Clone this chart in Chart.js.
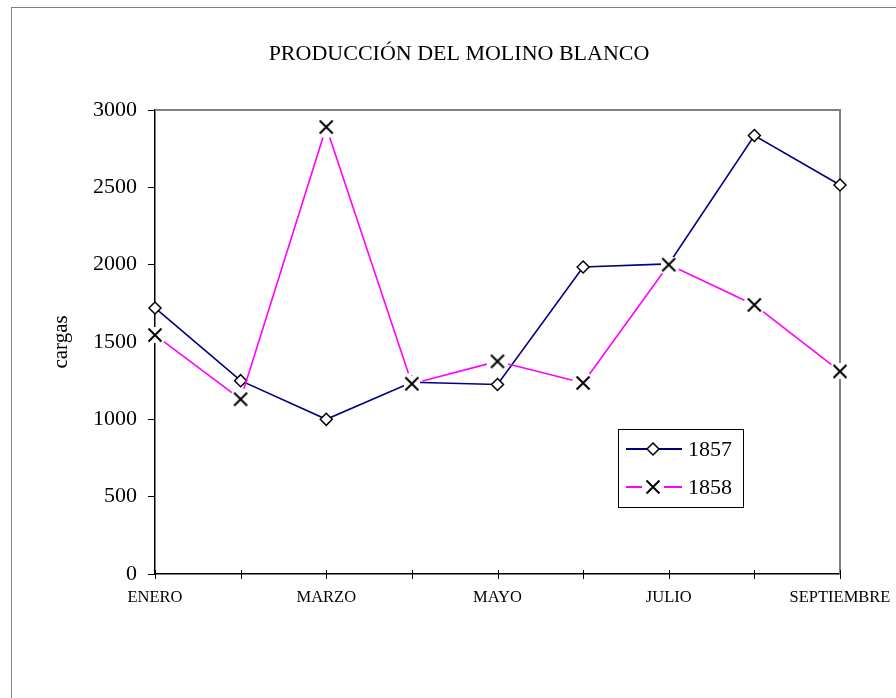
<!DOCTYPE html>
<html><head><meta charset="utf-8">
<script src="https://cdn.jsdelivr.net/npm/chart.js@4.4.1/dist/chart.umd.min.js"></script>
<style>html,body{margin:0;padding:0;background:#fff}#wrap{width:896px;height:698px;position:relative}</style>
</head><body><div id="wrap"><canvas id="c"></canvas></div>
<script>
const months = ['ENERO','FEBRERO','MARZO','ABRIL','MAYO','JUNIO','JULIO','AGOSTO','SEPTIEMBRE'];
const seriesNames = ['1857','1858'];
const values1857 = [1720,1250,1000,1240,1225,1985,2005,2835,2515];
const values1858 = [1545,1130,2890,1230,1375,1235,2000,1740,1310];
const yTicks = [0,500,1000,1500,2000,2500,3000];
const chartTitle = 'PRODUCCIÓN DEL MOLINO BLANCO';
const yTitle = 'cargas';

const FONT = 'Liberation Serif';
const NAVY = '#000080', MAGENTA = '#FF00FF';
const GAP = 11;

function makeXMarker() {
  const c = document.createElement('canvas');
  c.width = 16; c.height = 16;
  const g = c.getContext('2d');
  g.fillStyle = '#fff'; g.fillRect(0,0,16,16);
  g.strokeStyle = '#000'; g.lineWidth = 2;
  g.beginPath();
  g.moveTo(1.5,1.5); g.lineTo(14.5,14.5);
  g.moveTo(14.5,1.5); g.lineTo(1.5,14.5);
  g.stroke();
  return c;
}
const xMarker = makeXMarker();

function segLen(ctx){ const dx = ctx.p1.x-ctx.p0.x, dy = ctx.p1.y-ctx.p0.y; return Math.sqrt(dx*dx+dy*dy); }

function drawDiamond(ctx, x, y, r){
  ctx.beginPath();
  ctx.moveTo(x, y-r); ctx.lineTo(x+r, y); ctx.lineTo(x, y+r); ctx.lineTo(x-r, y); ctx.closePath();
  ctx.fillStyle = '#fff'; ctx.fill();
  ctx.strokeStyle = '#000'; ctx.lineWidth = 1.5; ctx.stroke();
}

const decor = {
  id: 'decor',
  beforeDraw(chart){
    const ctx = chart.ctx;
    ctx.save();
    ctx.fillStyle = '#fff'; ctx.fillRect(0,0,chart.width,chart.height);
    ctx.strokeStyle = '#808080'; ctx.lineWidth = 1;
    ctx.strokeRect(11.5, 7.5, chart.width + 50, chart.height + 50);
    ctx.restore();
  },
  beforeDatasetsDraw(chart){
    const {ctx, chartArea: a, scales: {x}} = chart;
    ctx.save();
    ctx.strokeStyle = '#808080'; ctx.lineWidth = 2;
    ctx.beginPath();
    ctx.moveTo(a.left, a.top); ctx.lineTo(a.right, a.top); ctx.lineTo(a.right, a.bottom);
    ctx.stroke();
    ctx.strokeStyle = '#000'; ctx.lineWidth = 1;
    for (let i = 0; i < x.ticks.length; i++) {
      const px = Math.round(x.getPixelForTick(i)) + 0.5;
      ctx.beginPath(); ctx.moveTo(px, a.bottom - 4); ctx.lineTo(px, a.bottom + 5); ctx.stroke();
    }
    ctx.restore();
  },
  afterDraw(chart){
    const {ctx, chartArea: a} = chart;
    ctx.save();
    // title
    ctx.fillStyle = '#000';
    ctx.font = '22px "' + FONT + '"';
    ctx.textAlign = 'center'; ctx.textBaseline = 'middle';
    ctx.fillText(chartTitle, (11 + chart.width + 11) / 2, 54);
    // legend
    const w = a.right - a.left, h = a.bottom - a.top;
    const bx = Math.round(a.left + 0.676*w), by = Math.round(a.top + 0.6875*h);
    const bw = 125, bh = 78;
    ctx.strokeStyle = '#000'; ctx.lineWidth = 1;
    ctx.strokeRect(bx + 0.5, by + 0.5, bw, bh);
    const ds = chart.data.datasets;
    const rows = [by + 20, by + 58];
    const mx = bx + 35;
    ds.forEach((d, i) => {
      const y = rows[i];
      ctx.strokeStyle = d.borderColor; ctx.lineWidth = 2;
      ctx.beginPath();
      if (i === 0) {
        ctx.moveTo(bx + 8, y); ctx.lineTo(bx + 64, y);
      } else {
        ctx.moveTo(bx + 8, y); ctx.lineTo(mx - GAP, y);
        ctx.moveTo(mx + GAP, y); ctx.lineTo(bx + 64, y);
      }
      ctx.stroke();
      if (i === 0) drawDiamond(ctx, mx, y, 6);
      else ctx.drawImage(xMarker, mx - 8, y - 8);
      ctx.fillStyle = '#000';
      ctx.font = '22px "' + FONT + '"';
      ctx.textAlign = 'left'; ctx.textBaseline = 'middle';
      ctx.fillText(d.label, bx + 70, y + 1);
    });
    ctx.restore();
  }
};

Chart.defaults.font.family = FONT;
Chart.defaults.color = '#000';

new Chart(document.getElementById('c'), {
  type: 'line',
  data: {
    labels: months,
    datasets: [
      {
        label: seriesNames[0], data: values1857, order: 1,
        borderColor: NAVY, borderWidth: 1.6, tension: 0, clip: 20,
        pointStyle: 'rectRot', pointRadius: 6, pointHoverRadius: 6,
        pointBackgroundColor: '#fff', pointBorderColor: '#000', pointBorderWidth: 1.5
      },
      {
        label: seriesNames[1], data: values1858, order: 0,
        borderColor: MAGENTA, borderWidth: 1.6, tension: 0, clip: 20,
        pointStyle: xMarker, pointRadius: 8, pointHoverRadius: 8,
        segment: {
          borderDash: ctx => { const L = segLen(ctx); return [Math.max(L - 2*GAP, 0), 2*GAP]; },
          borderDashOffset: ctx => segLen(ctx) - GAP
        }
      }
    ]
  },
  options: {
    responsive: true, maintainAspectRatio: false, animation: false,
    devicePixelRatio: 1,
    layout: { padding: { top: 110, right: 56, bottom: 84, left: 40 } },
    plugins: { legend: { display: false }, title: { display: false }, tooltip: { enabled: false } },
    events: [],
    scales: {
      x: {
        type: 'category', offset: false,
        grid: { display: false, tickLength: 4 },
        border: { color: '#000', width: 1.5 },
        ticks: {
          autoSkip: false, maxRotation: 0, minRotation: 0, padding: 10,
          font: { family: FONT, size: 16.5 }, color: '#000',
          callback: function(v, i){ return i % 2 === 0 ? this.getLabelForValue(v) : ''; }
        },
        afterFit: s => { s.height = 40; s.paddingRight = 0; s.paddingLeft = 0; }
      },
      y: {
        min: yTicks[0], max: yTicks[yTicks.length-1],
        grid: { drawOnChartArea: false, color: '#000', tickLength: 7, lineWidth: 1 },
        border: { color: '#000', width: 1.5 },
        ticks: { stepSize: yTicks[1] - yTicks[0], padding: 11, font: { family: FONT, size: 22 }, color: '#000',
          callback: v => String(v) },
        title: { display: true, text: yTitle, font: { family: FONT, size: 21 }, color: '#000', padding: { top: 9, bottom: 0 } },
        afterFit: s => { s.width = 115; }
      }
    }
  },
  plugins: [decor]
});
</script>
</body></html>
